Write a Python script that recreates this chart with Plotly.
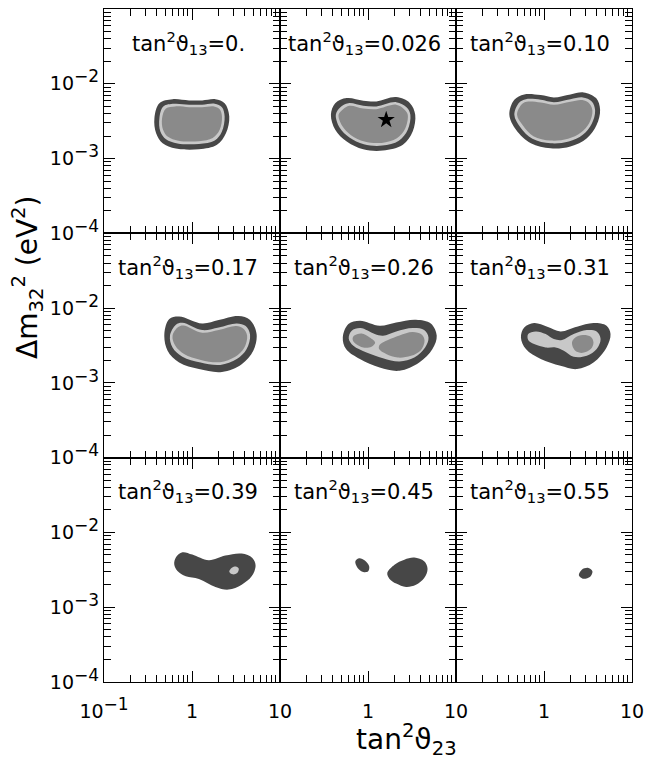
import plotly.graph_objects as go
from plotly.subplots import make_subplots

# tan^2(theta13) value shown in each panel (row-major order)
theta13_labels = ["0.", "0.026", "0.10", "0.17", "0.26", "0.31", "0.39", "0.45", "0.55"]

# Allowed-region outlines in the (tan^2 theta23, dm^2_32 [eV^2]) plane.
# outer = dark band, light = light band, core = medium-grey region.

# tan^2 theta13 = 0.
p0_outer_t = [0.426, 0.601, 0.925, 1.305, 1.846, 2.349, 2.652, 2.429, 1.924, 1.198, 0.656, 0.464, 0.391, 0.374]
p0_outer_m = [5.51e-3, 6.23e-3, 5.99e-3, 5.99e-3, 6.23e-3, 5.51e-3, 3.66e-3, 2.18e-3, 1.53e-3, 1.33e-3, 1.36e-3, 1.60e-3, 2.18e-3, 3.47e-3]
p0_light_t = [0.472, 0.628, 0.925, 1.305, 1.813, 2.19, 2.349, 2.19, 1.813, 1.198, 0.684, 0.506, 0.437, 0.426]
p0_light_m = [4.98e-3, 5.41e-3, 5.25e-3, 5.25e-3, 5.41e-3, 4.87e-3, 3.66e-3, 2.30e-3, 1.74e-3, 1.57e-3, 1.59e-3, 1.81e-3, 2.30e-3, 3.47e-3]
p0_core_t = [0.506, 0.644, 0.925, 1.305, 1.78, 2.064, 2.19, 2.064, 1.72, 1.198, 0.702, 0.533, 0.469, 0.457]
p0_core_m = [4.68e-3, 4.98e-3, 4.87e-3, 4.87e-3, 4.98e-3, 4.58e-3, 3.66e-3, 2.43e-3, 1.89e-3, 1.71e-3, 1.73e-3, 1.95e-3, 2.43e-3, 3.47e-3]

# tan^2 theta13 = 0.026
p1_outer_t = [0.424, 0.573, 0.883, 1.246, 2.09, 3.00, 3.44, 3.22, 2.49, 1.48, 0.883, 0.573, 0.424, 0.379]
p1_outer_m = [5.51e-3, 6.43e-3, 5.94e-3, 5.81e-3, 6.63e-3, 5.51e-3, 3.85e-3, 2.30e-3, 1.53e-3, 1.28e-3, 1.33e-3, 1.69e-3, 2.43e-3, 3.85e-3]
p1_light_t = [0.482, 0.599, 0.883, 1.246, 2.09, 2.76, 3.03, 2.83, 2.24, 1.456, 0.897, 0.615, 0.475, 0.431]
p1_light_m = [4.83e-3, 5.51e-3, 5.09e-3, 4.98e-3, 5.68e-3, 4.83e-3, 3.85e-3, 2.43e-3, 1.73e-3, 1.49e-3, 1.55e-3, 1.91e-3, 2.60e-3, 3.85e-3]
p1_core_t = [0.517, 0.615, 0.883, 1.246, 2.09, 2.59, 2.83, 2.64, 2.13, 1.43, 0.913, 0.641, 0.508, 0.463]
p1_core_m = [4.54e-3, 5.09e-3, 4.68e-3, 4.58e-3, 5.25e-3, 4.54e-3, 3.85e-3, 2.50e-3, 1.87e-3, 1.62e-3, 1.69e-3, 2.05e-3, 2.74e-3, 3.85e-3]
best_fit_t = [1.61]
best_fit_m = [3.30e-3]

# tan^2 theta13 = 0.10
p2_outer_t = [0.460, 0.596, 0.918, 1.295, 1.995, 2.82, 3.91, 4.34, 3.97, 3.07, 1.995, 1.19, 0.709, 0.481, 0.404]
p2_outer_m = [6.12e-3, 7.21e-3, 7.06e-3, 6.57e-3, 7.21e-3, 7.67e-3, 6.43e-3, 4.50e-3, 2.83e-3, 1.87e-3, 1.45e-3, 1.37e-3, 1.60e-3, 2.43e-3, 3.85e-3]
p2_light_t = [0.524, 0.623, 0.918, 1.295, 1.995, 2.76, 3.49, 3.81, 3.49, 2.76, 1.91, 1.19, 0.739, 0.538, 0.460]
p2_light_m = [5.63e-3, 6.23e-3, 6.12e-3, 5.68e-3, 6.23e-3, 6.57e-3, 5.81e-3, 4.40e-3, 2.92e-3, 2.08e-3, 1.69e-3, 1.60e-3, 1.84e-3, 2.63e-3, 3.85e-3]
p2_core_t = [0.562, 0.639, 0.918, 1.295, 1.995, 2.72, 3.29, 3.55, 3.26, 2.63, 1.875, 1.19, 0.758, 0.576, 0.494]
p2_core_m = [5.35e-3, 5.76e-3, 5.63e-3, 5.25e-3, 5.76e-3, 6.05e-3, 5.41e-3, 4.36e-3, 2.97e-3, 2.23e-3, 1.84e-3, 1.74e-3, 1.99e-3, 2.77e-3, 3.85e-3]

# tan^2 theta13 = 0.17
p3_outer_t = [0.552, 0.714, 1.305, 2.01, 3.37, 4.57, 5.42, 4.97, 3.67, 2.19, 1.198, 0.714, 0.528, 0.485]
p3_outer_m = [7.14e-3, 7.74e-3, 6.23e-3, 6.93e-3, 7.84e-3, 6.93e-3, 4.50e-3, 2.69e-3, 1.78e-3, 1.40e-3, 1.53e-3, 1.87e-3, 2.69e-3, 4.50e-3]
p3_light_t = [0.656, 0.778, 1.305, 2.01, 3.23, 4.08, 4.57, 4.18, 3.23, 2.10, 1.252, 0.778, 0.601, 0.562]
p3_light_m = [5.99e-3, 6.37e-3, 5.09e-3, 5.51e-3, 6.23e-3, 5.76e-3, 4.40e-3, 2.83e-3, 2.08e-3, 1.74e-3, 1.87e-3, 2.23e-3, 2.97e-3, 4.27e-3]
p3_core_t = [0.696, 0.798, 1.305, 2.01, 3.18, 3.81, 4.23, 3.91, 3.10, 2.08, 1.262, 0.813, 0.644, 0.601]
p3_core_m = [5.58e-3, 5.86e-3, 4.68e-3, 5.09e-3, 5.76e-3, 5.35e-3, 4.31e-3, 2.92e-3, 2.23e-3, 1.89e-3, 2.03e-3, 2.43e-3, 3.16e-3, 4.27e-3]

# tan^2 theta13 = 0.26
p4_outer_t = [0.599, 0.809, 1.357, 2.09, 3.51, 5.17, 6.04, 5.40, 3.82, 2.28, 1.357, 0.809, 0.563, 0.517]
p4_outer_m = [6.12e-3, 6.78e-3, 5.81e-3, 6.43e-3, 6.99e-3, 6.23e-3, 4.27e-3, 2.83e-3, 1.87e-3, 1.45e-3, 1.60e-3, 2.08e-3, 2.83e-3, 4.05e-3]
p4_light_t = [0.653, 0.823, 1.192, 1.48, 2.09, 3.22, 4.35, 4.87, 4.46, 3.36, 2.28, 1.48, 0.962, 0.682, 0.604]
p4_light_m = [4.98e-3, 5.41e-3, 4.50e-3, 4.27e-3, 4.87e-3, 5.41e-3, 5.09e-3, 4.05e-3, 2.97e-3, 2.18e-3, 1.93e-3, 2.14e-3, 2.55e-3, 3.13e-3, 3.93e-3]
p4_core_a_t = [0.692, 0.845, 1.047, 1.205, 1.095, 0.883, 0.729, 0.669]
p4_core_a_m = [4.27e-3, 4.58e-3, 4.05e-3, 3.47e-3, 3.04e-3, 2.97e-3, 3.30e-3, 3.81e-3]
p4_core_b_t = [1.357, 1.687, 2.28, 3.22, 4.10, 4.39, 3.99, 3.08, 2.18, 1.61, 1.336]
p4_core_b_m = [3.23e-3, 3.74e-3, 4.31e-3, 4.78e-3, 4.40e-3, 3.66e-3, 2.74e-3, 2.30e-3, 2.18e-3, 2.43e-3, 2.83e-3]

# tan^2 theta13 = 0.31
p5_outer_t = [0.596, 0.772, 1.089, 1.54, 2.37, 3.65, 5.14, 5.70, 5.14, 3.65, 2.37, 1.54, 0.918, 0.623, 0.547]
p5_outer_m = [5.51e-3, 6.31e-3, 5.63e-3, 4.87e-3, 5.63e-3, 6.31e-3, 5.81e-3, 4.50e-3, 2.97e-3, 1.87e-3, 1.53e-3, 1.69e-3, 2.08e-3, 2.83e-3, 4.05e-3]
p5_light_t = [0.661, 0.807, 1.045, 1.295, 1.605, 2.17, 3.07, 3.97, 4.40, 3.97, 3.07, 2.17, 1.68, 1.354, 1.045, 0.772, 0.661]
p5_light_m = [4.50e-3, 4.87e-3, 4.50e-3, 3.85e-3, 3.74e-3, 4.50e-3, 5.09e-3, 4.87e-3, 3.85e-3, 2.83e-3, 2.30e-3, 2.23e-3, 2.69e-3, 2.97e-3, 2.97e-3, 3.30e-3, 3.74e-3]
p5_core_t = [2.08, 2.27, 2.76, 3.40, 3.65, 3.40, 2.76, 2.27]
p5_core_m = [3.47e-3, 4.05e-3, 4.36e-3, 4.14e-3, 3.47e-3, 2.83e-3, 2.52e-3, 2.69e-3]

# tan^2 theta13 = 0.39
p6_outer_t = [0.628, 0.660, 0.778, 1.008, 1.552, 2.39, 3.67, 4.85, 5.28, 4.76, 3.67, 2.60, 1.846, 1.198, 0.850, 0.684]
p6_outer_m = [3.75e-3, 4.70e-3, 5.43e-3, 5.06e-3, 4.24e-3, 4.90e-3, 5.21e-3, 4.57e-3, 3.60e-3, 2.59e-3, 2.00e-3, 1.72e-3, 1.87e-3, 2.39e-3, 2.59e-3, 3.05e-3]
p6_light_t = [2.65, 2.84, 3.20, 3.40, 3.26, 2.91]
p6_light_m = [2.99e-3, 3.38e-3, 3.49e-3, 3.28e-3, 2.87e-3, 2.75e-3]

# tan^2 theta13 = 0.45
p7_small_t = [0.718, 0.796, 0.921, 1.031, 1.005, 0.883, 0.762]
p7_small_m = [4.11e-3, 4.51e-3, 4.20e-3, 3.52e-3, 3.02e-3, 2.96e-3, 3.35e-3]
p7_large_t = [1.656, 2.00, 2.59, 3.36, 4.35, 4.75, 4.35, 3.51, 2.71, 2.09, 1.757]
p7_large_m = [2.87e-3, 3.71e-3, 4.33e-3, 4.61e-3, 4.11e-3, 3.25e-3, 2.46e-3, 2.00e-3, 1.87e-3, 2.07e-3, 2.39e-3]

# tan^2 theta13 = 0.55
p8_outer_t = [2.49, 2.69, 3.20, 3.55, 3.35, 2.76]
p8_outer_m = [2.67e-3, 3.18e-3, 3.35e-3, 3.02e-3, 2.56e-3, 2.41e-3]

# Axis ticks
x_tickvals = [0.1, 1, 10]
x_ticktext_first = ["10<sup><span style='font-size:17px'>−1</span></sup>", "1", "10"]
x_ticktext_other = ["", "1", "10"]
y_tickvals = [1e-4, 1e-3, 1e-2, 1e-1]
y_ticktext = ["10<sup><span style='font-size:17px'>−4</span></sup>",
              "10<sup><span style='font-size:17px'>−3</span></sup>",
              "10<sup><span style='font-size:17px'>−2</span></sup>", ""]
minor_digits = [2, 3, 4, 5, 6, 7, 8, 9]
x_minor = [d * 10.0 ** e for e in (-1, 0) for d in minor_digits]
y_minor = [d * 10.0 ** e for e in (-4, -3, -2) for d in minor_digits]

DARK = "#474747"
LIGHT = "#c8c8c8"
MID = "#8a8a8a"
FONT = "DejaVu Sans"

regions = [
    (0, DARK, p0_outer_t, p0_outer_m), (0, LIGHT, p0_light_t, p0_light_m), (0, MID, p0_core_t, p0_core_m),
    (1, DARK, p1_outer_t, p1_outer_m), (1, LIGHT, p1_light_t, p1_light_m), (1, MID, p1_core_t, p1_core_m),
    (2, DARK, p2_outer_t, p2_outer_m), (2, LIGHT, p2_light_t, p2_light_m), (2, MID, p2_core_t, p2_core_m),
    (3, DARK, p3_outer_t, p3_outer_m), (3, LIGHT, p3_light_t, p3_light_m), (3, MID, p3_core_t, p3_core_m),
    (4, DARK, p4_outer_t, p4_outer_m), (4, LIGHT, p4_light_t, p4_light_m),
    (4, MID, p4_core_a_t, p4_core_a_m), (4, MID, p4_core_b_t, p4_core_b_m),
    (5, DARK, p5_outer_t, p5_outer_m), (5, LIGHT, p5_light_t, p5_light_m), (5, MID, p5_core_t, p5_core_m),
    (6, DARK, p6_outer_t, p6_outer_m), (6, LIGHT, p6_light_t, p6_light_m),
    (7, DARK, p7_small_t, p7_small_m), (7, DARK, p7_large_t, p7_large_m),
    (8, DARK, p8_outer_t, p8_outer_m),
]

fig = make_subplots(rows=3, cols=3, horizontal_spacing=0, vertical_spacing=0)

for panel, colour, t, m in regions:
    row, col = panel // 3 + 1, panel % 3 + 1
    fig.add_trace(
        go.Scatter(
            x=t + t[:1], y=m + m[:1], mode="lines", fill="toself",
            fillcolor=colour,
            line=dict(width=0, color=colour, shape="spline", smoothing=1.0, simplify=False),
            hoverinfo="skip", showlegend=False,
        ),
        row=row, col=col,
    )

# best-fit point
fig.add_trace(
    go.Scatter(x=best_fit_t, y=best_fit_m, mode="markers",
               marker=dict(symbol="star", size=13, color="black", line=dict(width=0)),
               hoverinfo="skip", showlegend=False),
    row=1, col=2,
)

tickfont = dict(family=FONT, size=19, color="black")

for r in range(1, 4):
    for c in range(1, 4):
        fig.update_xaxes(
            type="log", range=[-1, 1], showgrid=False, zeroline=False,
            tickmode="array", tickvals=x_tickvals,
            ticktext=x_ticktext_first if c == 1 else x_ticktext_other,
            showticklabels=(r == 3),
            ticks="inside", ticklen=11, tickwidth=1, tickcolor="black",
            showline=True, linecolor="black", linewidth=1.2, mirror="allticks",
            minor=dict(tickmode="array", tickvals=x_minor, ticks="inside", ticklen=7,
                       tickwidth=1, tickcolor="black", showgrid=False),
            tickfont=tickfont, ticklabelstandoff=12,
            row=r, col=c,
        )
        fig.update_yaxes(
            type="log", range=[-4, -1], showgrid=False, zeroline=False,
            tickmode="array", tickvals=y_tickvals, ticktext=y_ticktext,
            showticklabels=(c == 1),
            ticks="inside", ticklen=11, tickwidth=1, tickcolor="black",
            showline=True, linecolor="black", linewidth=1.2, mirror="allticks",
            minor=dict(tickmode="array", tickvals=y_minor, ticks="inside", ticklen=7,
                       tickwidth=1, tickcolor="black", showgrid=False),
            tickfont=tickfont,
            row=r, col=c,
        )

annotations = []
for i, lab in enumerate(theta13_labels):
    ax = "x" if i == 0 else f"x{i + 1}"
    ay = "y" if i == 0 else f"y{i + 1}"
    annotations.append(dict(
        text=f"tan<sup>2</sup>ϑ<sub>13</sub>={lab}",
        xref=f"{ax} domain", yref=f"{ay} domain", x=0.48, y=0.85,
        xanchor="center", yanchor="middle", showarrow=False,
        font=dict(family=FONT, size=21, color="black"),
    ))

annotations.append(dict(
    text="Δm<sub>32</sub><sup>2</sup> (eV<sup>2</sup>)",
    xref="paper", yref="paper", x=-0.145, y=0.601, textangle=-90,
    xanchor="center", yanchor="middle", showarrow=False,
    font=dict(family=FONT, size=28, color="black"),
))
annotations.append(dict(
    text="tan<sup>2</sup>ϑ<sub>23</sub>",
    xref="paper", yref="paper", x=0.573, y=-0.085,
    xanchor="center", yanchor="middle", showarrow=False,
    font=dict(family=FONT, size=28, color="black"),
))

fig.update_layout(
    width=652, height=760,
    margin=dict(l=104, r=14, t=8, b=78),
    paper_bgcolor="white", plot_bgcolor="white",
    showlegend=False, annotations=annotations,
)

fig.write_html("out.html")
